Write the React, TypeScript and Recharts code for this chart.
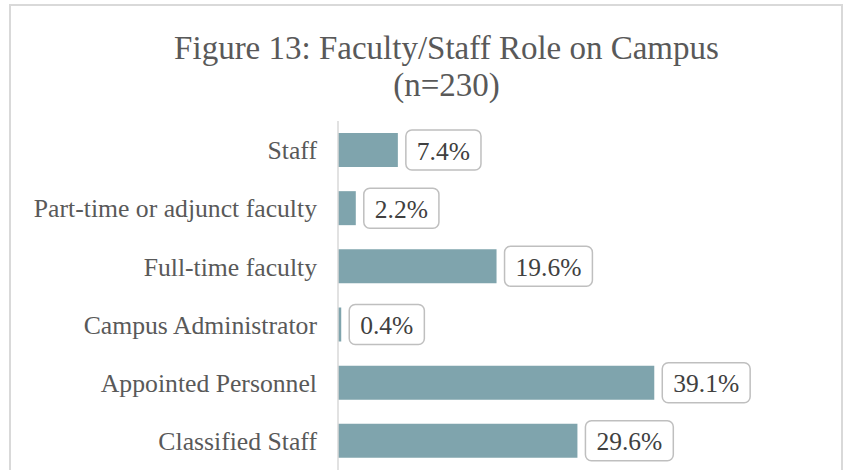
import { BarChart, Bar, XAxis, YAxis, LabelList } from 'recharts'

const categories = [
  'Staff',
  'Part-time or adjunct faculty',
  'Full-time faculty',
  'Campus Administrator',
  'Appointed Personnel',
  'Classified Staff',
]
const percents = [7.4, 2.2, 19.6, 0.4, 39.1, 29.6]

const titleLines = ['Figure 13: Faculty/Staff Role on Campus', '(n=230)']

const FONT = '"Liberation Serif", "Times New Roman", serif'

// rough Liberation Serif widths (em) for the label text
const charWidth = (c: string) => {
  if (c === '.') return 0.25
  if (c === '%') return 0.833
  return 0.5
}

function ValueBox(props: any) {
  const { x, y, width, height, value } = props
  const fontSize = 25.5
  const text = `${value.toFixed(1)}%`
  const tw = text.split('').reduce((s, c) => s + charWidth(c), 0) * fontSize
  const bw = tw + 22
  const bx = x + width + 8
  const cy = y + height / 2
  return (
    <g>
      <rect x={bx} y={cy - 20} width={bw} height={40} rx={6} ry={6} fill="#fff" stroke="#bfbfbf" strokeWidth={1.5} />
      <text x={bx + bw / 2} y={cy + 1} textAnchor="middle" dominantBaseline="central" fontSize={fontSize} fontFamily={FONT} fill="#404040">
        {text}
      </text>
    </g>
  )
}

export default function App() {
  const data = categories.map((name, i) => ({ name, value: percents[i] }))

  return (
    <div style={{ position: 'fixed', left: 0, top: 0, width: 845, height: 470, overflow: 'hidden', background: '#fff' }}>
      <div style={{ position: 'absolute', left: 9, top: 4, width: 830, height: 600, border: '2px solid #d9d9d9' }} />
      <div style={{ position: 'absolute', left: 0, top: 30, width: 893, textAlign: 'center', fontFamily: FONT, fontSize: 33, lineHeight: '37px', color: '#595959' }}>
        {titleLines.map((t) => (
          <div key={t}>{t}</div>
        ))}
      </div>
      <div style={{ position: 'absolute', left: 0, top: 0 }}>
        <BarChart
          width={845}
          height={470}
          data={data}
          layout="vertical"
          margin={{ top: 121, right: 143, bottom: 0, left: 0 }}
        >
          <XAxis type="number" domain={[0, 45]} hide />
          <YAxis
            type="category"
            dataKey="name"
            width={338}
            axisLine={{ stroke: '#d9d9d9', strokeWidth: 1.5 }}
            tickLine={false}
            tickSize={0}
            tickMargin={21}
            tick={{ fontSize: 25.7, fill: '#595959', fontFamily: FONT }}
            interval={0}
          />
          <Bar dataKey="value" fill="#7fa4ad" barSize={34} isAnimationActive={false}>
            <LabelList dataKey="value" content={ValueBox} />
          </Bar>
        </BarChart>
      </div>
    </div>
  )
}
